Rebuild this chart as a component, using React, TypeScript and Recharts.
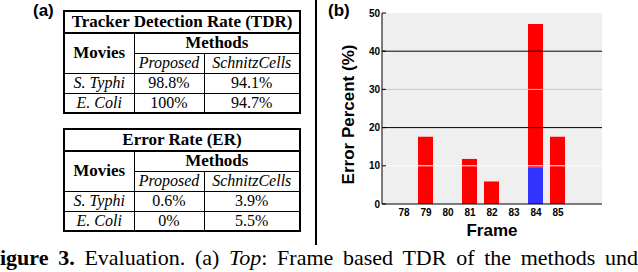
import React from 'react';
import { BarChart, Bar, XAxis, YAxis, CartesianGrid, ReferenceLine, Label } from 'recharts';

// ---- chart data ----
const frames = [78, 79, 80, 81, 82, 83, 84, 85];
const blueValues = [0, 0, 0, 0, 0, 0, 9.5, 0];
const redValues = [0, 17.6, 0, 11.8, 5.9, 0, 37.6, 17.6];
const xTicks = [78, 79, 80, 81, 82, 83, 84, 85];
const topTicks = [78, 79, 80, 81, 82, 83, 84, 85, 86];
const yTicks = [0, 10, 20, 30, 40, 50];
const gridValues = [10, 20, 30, 40];

// ---- table data ----
const methodNames = ['Proposed', 'SchnitzCells'];
const tdrRows = [
  ['S. Typhi', '98.8%', '94.1%'],
  ['E. Coli', '100%', '94.7%'],
];
const erRows = [
  ['S. Typhi', '0.6%', '3.9%'],
  ['E. Coli', '0%', '5.5%'],
];

const data = frames.map((f, i) => ({ frame: f, blue: blueValues[i], red: redValues[i] }));

const gridColor: Record<number, string> = { 10: '#ffffff', 20: '#000000', 30: '#c8c8c8', 40: '#000000' };

const sans = '"Liberation Sans", Arial, sans-serif';
const serif = '"Liberation Serif", "Times New Roman", Times, serif';

const cell: React.CSSProperties = {
  border: '1px solid #000',
  padding: 0,
  textAlign: 'center',
  lineHeight: '16px',
  whiteSpace: 'nowrap',
  overflow: 'hidden',
};

function Table({ title, rows, top }: { title: string; rows: string[][]; top: number }) {
  return (
    <table
      style={{
        position: 'absolute',
        left: 63,
        top,
        width: 236,
        borderCollapse: 'collapse',
        border: '2px solid #000',
        tableLayout: 'fixed',
        fontFamily: serif,
        fontSize: 16,
        color: '#000',
      }}
    >
      <colgroup>
        <col style={{ width: 70 }} />
        <col style={{ width: 70 }} />
        <col style={{ width: 96 }} />
      </colgroup>
      <tbody>
        <tr style={{ height: 22 }}>
          <td colSpan={3} style={{ ...cell, fontWeight: 'bold', fontSize: 17, borderBottom: '2px solid #000' }}>{title}</td>
        </tr>
        <tr style={{ height: 20 }}>
          <td rowSpan={2} style={{ ...cell, fontWeight: 'bold', fontSize: 17 }}>Movies</td>
          <td colSpan={2} style={{ ...cell, fontWeight: 'bold', fontSize: 17 }}>Methods</td>
        </tr>
        <tr style={{ height: 20 }}>
          {methodNames.map((m) => (
            <td key={m} style={{ ...cell, fontStyle: 'italic' }}>{m}</td>
          ))}
        </tr>
        {rows.map((r, i) => (
          <tr key={i} style={{ height: 20 }}>
            <td style={{ ...cell, fontStyle: 'italic' }}>{r[0]}</td>
            <td style={cell}>{r[1]}</td>
            <td style={cell}>{r[2]}</td>
          </tr>
        ))}
      </tbody>
    </table>
  );
}

const renderYLabel = (props: any) => {
  const vb = props.viewBox || { x: 0, y: 0, width: 0, height: 0 };
  const cx = vb.x + 28;
  const cy = vb.y + vb.height / 2 + 6;
  return (
    <text
      x={cx}
      y={cy}
      transform={`rotate(-90 ${cx} ${cy})`}
      textAnchor="middle"
      dominantBaseline="central"
      fontFamily={sans}
      fontWeight="bold"
      fontSize={17}
      fill="#000"
    >
      Error Percent (%)
    </text>
  );
};

const renderXLabel = (props: any) => {
  const vb = props.viewBox || { x: 0, y: 0, width: 0, height: 0 };
  const cx = vb.x + vb.width / 2;
  const cy = vb.y + 26;
  return (
    <text x={cx} y={cy} textAnchor="middle" dominantBaseline="central" fontFamily={sans} fontWeight="bold" fontSize={17} fill="#000">
      Frame
    </text>
  );
};

export default function App() {
  const tickStyle = { fontFamily: sans, fontWeight: 'bold' as const, fontSize: 10, fill: '#000' };
  return (
    <div
      style={{
        position: 'fixed',
        left: 0,
        top: 0,
        width: 638,
        height: 272,
        overflow: 'hidden',
        background: '#fff',
      }}
    >
      <div style={{ position: 'absolute', left: 33, top: 0, fontFamily: sans, fontWeight: 'bold', fontSize: 17, lineHeight: '22px' }}>(a)</div>
      <div style={{ position: 'absolute', left: 328, top: 0, fontFamily: sans, fontWeight: 'bold', fontSize: 17, lineHeight: '22px' }}>(b)</div>

      <Table title="Tracker Detection Rate (TDR)" rows={tdrRows} top={10} />
      <Table title="Error Rate (ER)" rows={erRows} top={128} />

      <div style={{ position: 'absolute', left: 315, top: 0, width: 2, height: 245, background: '#000' }} />

      <div style={{ position: 'absolute', left: 320, top: 0 }}>
        <BarChart width={318} height={245} data={data} margin={{ top: 13, right: 36, bottom: 0, left: 0 }}>
          <CartesianGrid horizontal={false} vertical={false} fill="#efefef" />
          {gridValues.map((v) => (
            <ReferenceLine key={v} y={v} stroke={gridColor[v]} strokeWidth={1} />
          ))}
          <XAxis
            dataKey="frame"
            type="number"
            domain={[77, 87]}
            ticks={xTicks}
            interval={0}
            allowDataOverflow
            height={41}
            tickLine={false}
            tickSize={0}
            tickMargin={5}
            tick={tickStyle}
            axisLine={{ stroke: '#000', strokeWidth: 1 }}
          >
            <Label content={renderXLabel} />
          </XAxis>
          <XAxis
            xAxisId="top"
            orientation="top"
            dataKey="frame"
            type="number"
            domain={[77, 87]}
            ticks={topTicks}
            interval={0}
            allowDataOverflow
            height={0}
            tick={false}
            tickSize={-4}
            tickLine={{ stroke: '#000' }}
            axisLine={{ stroke: '#000', strokeWidth: 1 }}
          />
          <YAxis
            domain={[0, 50]}
            ticks={yTicks}
            interval={0}
            width={62}
            tickSize={-4}
            tickMargin={6}
            tick={tickStyle}
            tickLine={{ stroke: '#000' }}
            axisLine={{ stroke: '#000', strokeWidth: 1 }}
          >
            <Label content={renderYLabel} />
          </YAxis>
          <YAxis
            yAxisId="right"
            orientation="right"
            domain={[0, 50]}
            ticks={yTicks}
            interval={0}
            width={0}
            tick={false}
            tickSize={-4}
            tickLine={{ stroke: '#000' }}
            axisLine={{ stroke: '#000', strokeWidth: 1 }}
          />
          <Bar dataKey="blue" stackId="a" fill="#3333ff" barSize={15} isAnimationActive={false} />
          <Bar dataKey="red" stackId="a" fill="#ff0000" barSize={15} isAnimationActive={false} />
        </BarChart>
      </div>

      <div
        style={{
          position: 'absolute',
          left: 0,
          top: 247,
          width: 638,
          fontFamily: serif,
          fontSize: 22,
          lineHeight: '22px',
          whiteSpace: 'nowrap',
          textAlign: 'justify',
          textAlignLast: 'justify',
          color: '#000',
        }}
      >
        <b>igure 3.</b> Evaluation. (a) <i>Top</i>: Frame based TDR of the methods und
      </div>
    </div>
  );
}
